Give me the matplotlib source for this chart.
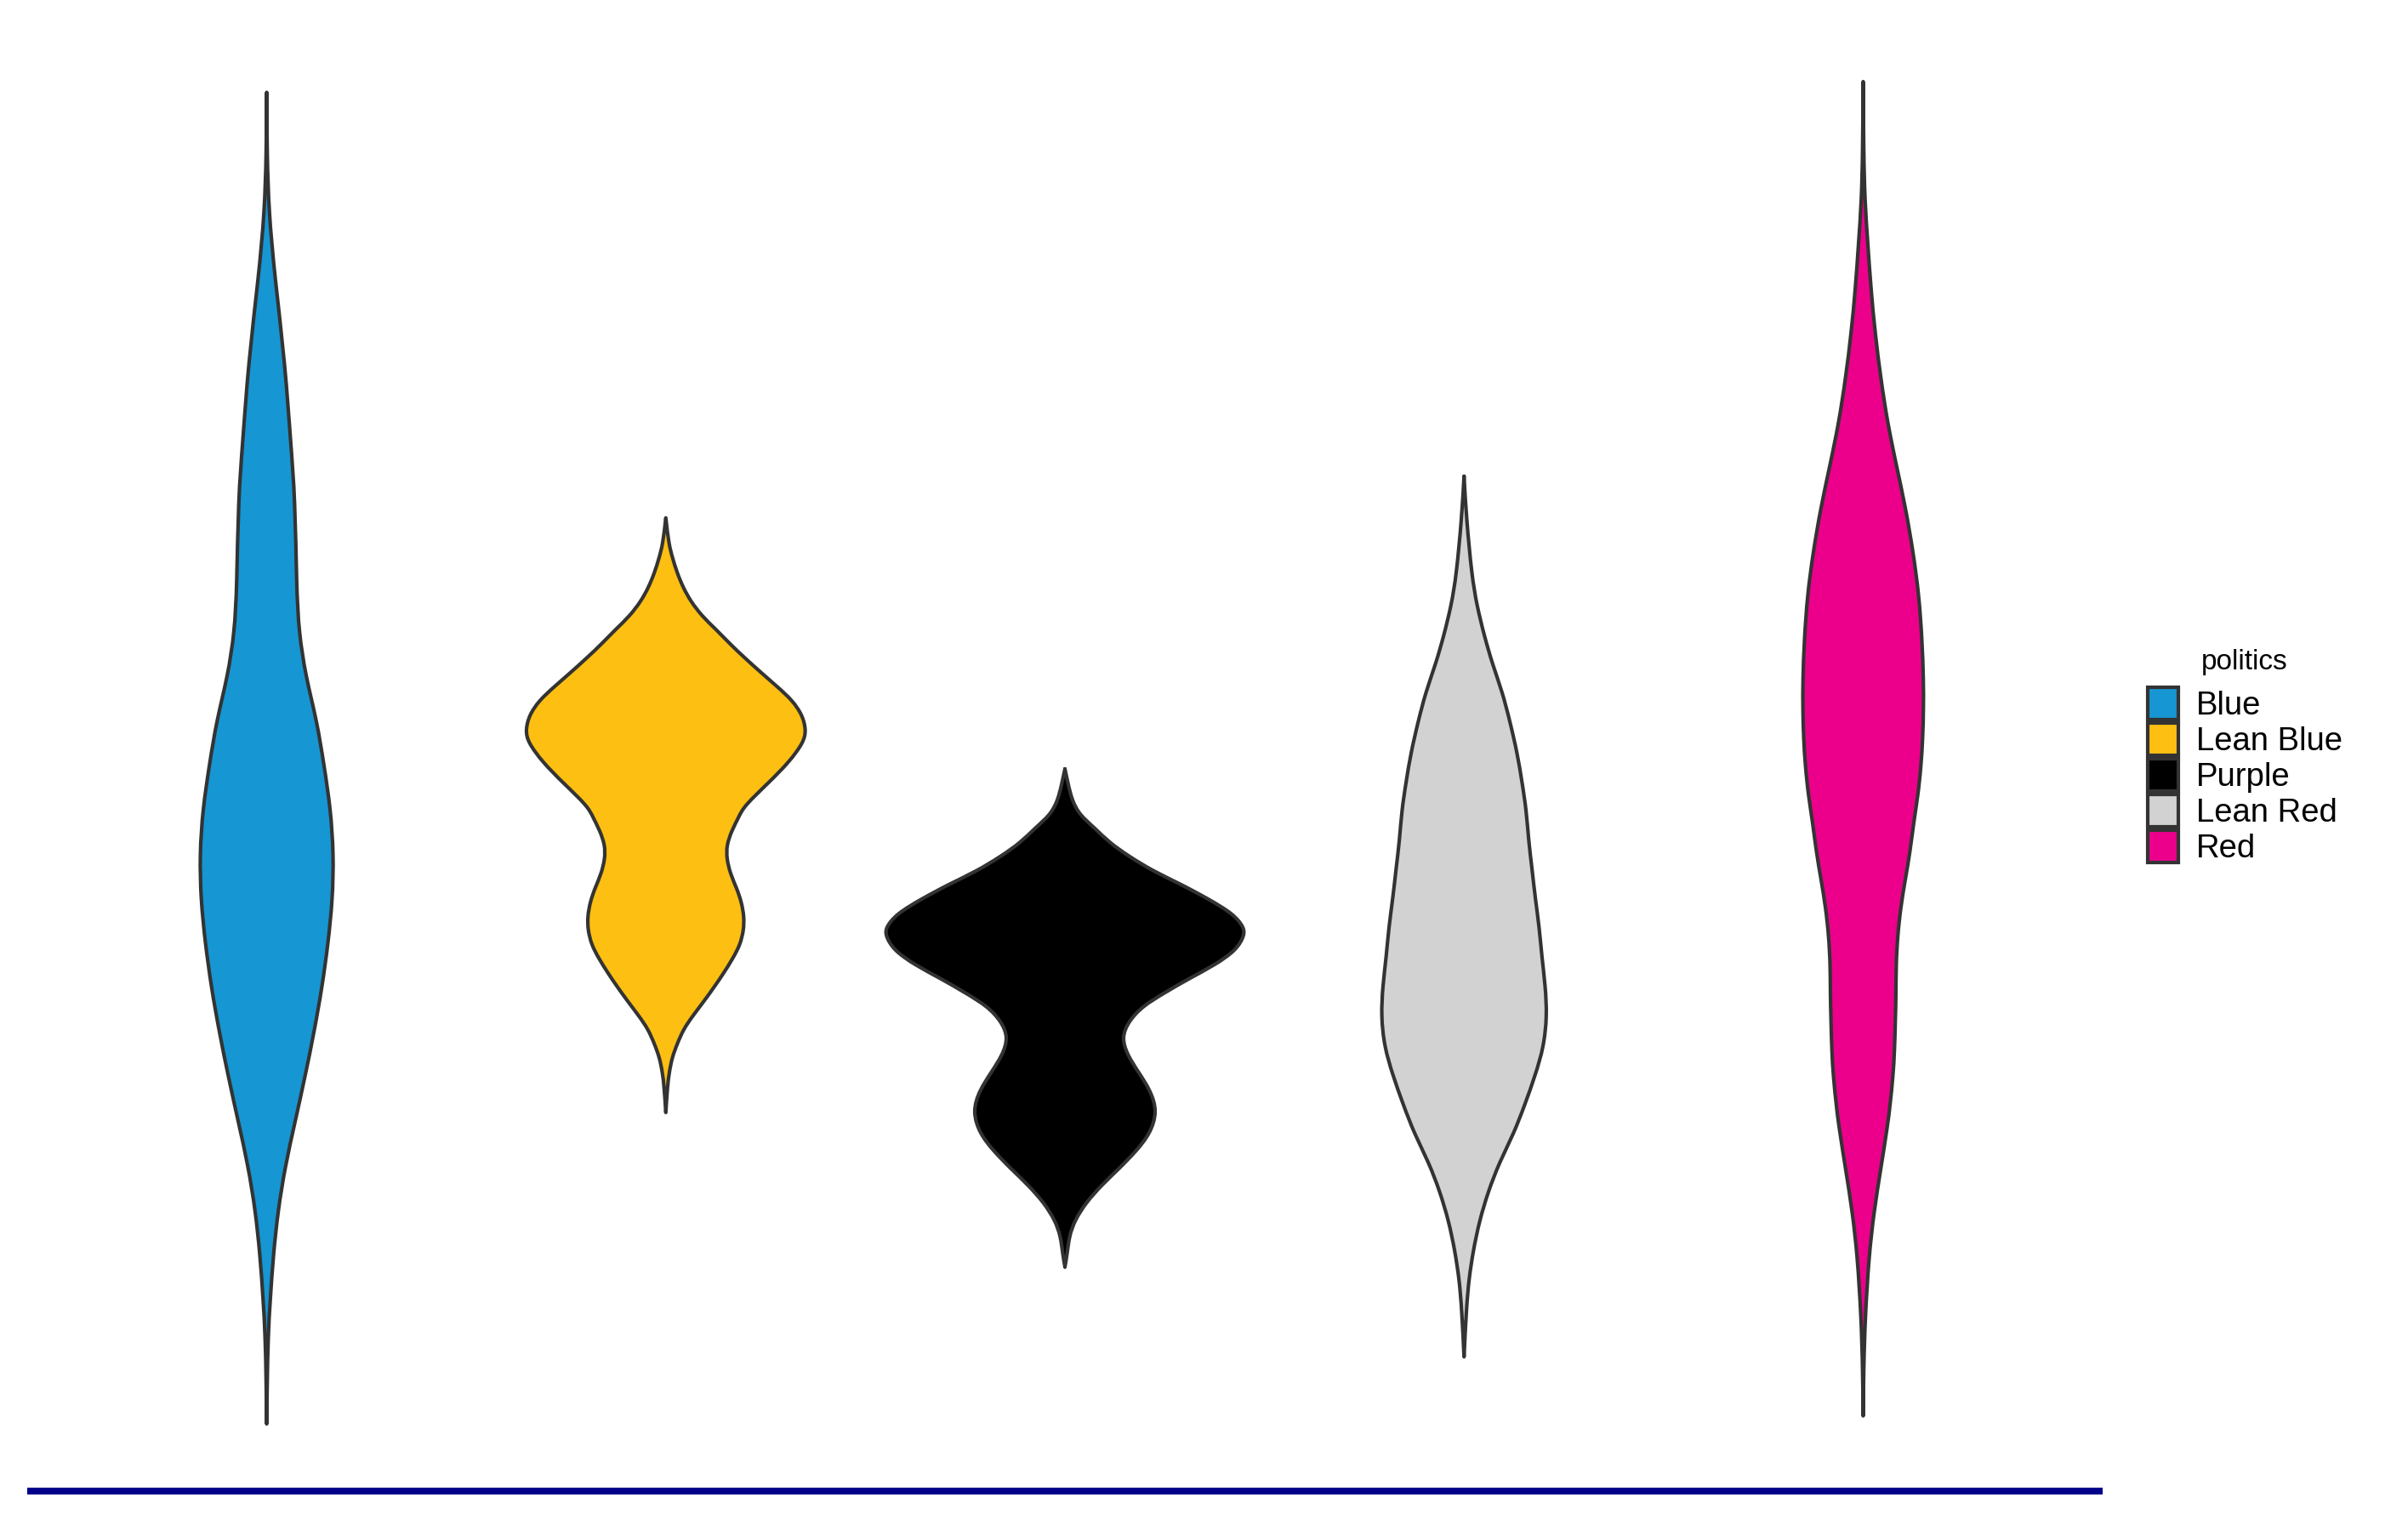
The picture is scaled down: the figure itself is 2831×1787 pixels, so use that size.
import numpy as np
import matplotlib
matplotlib.use("Agg")
import matplotlib.pyplot as plt
from matplotlib.path import Path
from matplotlib.patches import PathPatch, Rectangle

plt.rcParams['font.family'] = ['Liberation Sans', 'DejaVu Sans']

#____Data
categories = ["Blue", "Lean Blue", "Purple", "Lean Red", "Red"]
fill_colors = ["#1696d2", "#fdbf11", "#000000", "#d2d2d2", "#ec008b"]

# score along the y axis and relative density (widest violin = 1)
blue_y = [99.2, 94.6, 90.3, 85.6, 78.9, 73.0, 69.0, 62.4, 59.0, 55.7, 52.4, 49.1, 45.8,
          42.4, 39.1, 35.8, 32.5, 29.2, 25.9, 22.5, 19.2, 15.9, 12.6, 9.3, 6.6, 3.1, 0.0]
blue_w = [0, .002, .012, .044, .103, .134, .158, .166, .179, .217, .279, .319, .356,
          .373, .367, .342, .308, .264, .214, .158, .103, .063, .037, .020, .008, .003, 0]

leanblue_y = [67.5, 65.5, 64.5, 63.4, 62.3, 61.3, 60.2, 59.2, 58.1, 57.1, 56.0, 54.9, 53.9,
              52.8, 51.7, 50.8, 49.3, 47.8, 46.0, 45.2, 44.2, 43.1, 42.1, 41.0, 39.9, 38.9,
              37.8, 36.8, 35.7, 34.7, 33.6, 32.6, 31.5, 30.4, 29.4, 28.3, 27.3, 26.2, 25.1,
              23.2]
leanblue_w = [0, .017, .038, .063, .097, .138, .200, .279, .358, .437, .528, .623, .705,
              .761, .781, .769, .686, .575, .433, .406, .367, .338, .339, .359, .395, .421,
              .436, .434, .414, .374, .323, .272, .213, .150, .098, .063, .035, .019, .009,
              0]

purple_y = [48.8, 47.6, 46.5, 45.4, 44.4, 43.3, 42.3, 41.2, 40.2, 39.1, 38.0, 37.0, 36.4,
            35.3, 34.2, 33.2, 32.1, 31.1, 30.0, 28.8, 27.5, 26.2, 24.9, 23.3, 21.6, 20.3,
            19.0, 17.8, 16.5, 15.2, 14.0, 12.7, 11.7]
purple_w = [0, .019, .039, .079, .166, .248, .355, .489, .647, .800, .938, .997, 1.0,
            .955, .836, .694, .552, .430, .355, .315, .347, .410, .474, .516, .474, .395,
            .300, .205, .118, .056, .024, .013, 0]

leanred_y = [70.6, 67.5, 63.2, 61.0, 58.8, 56.6, 54.5, 52.3, 50.0, 47.8, 45.7, 43.5, 41.3,
             39.1, 37.0, 34.8, 32.6, 30.4, 28.1, 26.0, 23.8, 21.6, 19.5, 17.3, 15.1, 12.9,
             10.8, 8.6, 5.0]
leanred_w = [0, .013, .043, .071, .111, .158, .214, .256, .296, .323, .347, .359, .379,
             .397, .419, .433, .453, .462, .444, .397, .339, .276, .197, .134, .085, .051,
             .027, .013, 0]

red_y = [100.0, 94.6, 91.2, 87.9, 84.6, 81.2, 77.9, 74.7, 71.4, 68.2, 64.9, 61.7, 58.4,
         55.4, 53.3, 51.1, 49.0, 46.9, 44.8, 42.7, 40.6, 38.5, 36.4, 34.2, 32.1, 30.0,
         27.9, 25.8, 23.7, 22.4, 19.0, 15.8, 12.5, 7.9, 4.2, 0.6]
red_w = [0, .003, .009, .026, .043, .067, .098, .134, .185, .237, .279, .311, .328,
         .336, .336, .332, .322, .306, .281, .262, .235, .209, .192, .183, .183, .179,
         .175, .166, .149, .138, .098, .060, .032, .011, .003, 0]

profiles = [(blue_y, blue_w), (leanblue_y, leanblue_w), (purple_y, purple_w),
            (leanred_y, leanred_w), (red_y, red_w)]


#____Helpers
def bspline_side(pts):
    """Clamped uniform cubic B-spline on the points, as bezier segments."""
    p = np.vstack([pts[:1], pts[:1], pts, pts[-1:], pts[-1:]])
    verts, codes = [], []
    for i in range(1, len(p) - 2):
        a, b, c, d = p[i - 1], p[i], p[i + 1], p[i + 2]
        verts += [(2 * b + c) / 3.0, (b + 2 * c) / 3.0, (b + 4 * c + d) / 6.0]
        codes += [Path.CURVE4] * 3
    return verts, codes


def violin_patch(center, ys, ws, half_width=0.45, **kw):
    ys = np.asarray(ys, float)
    ws = np.asarray(ws, float) * half_width
    right = np.column_stack([center + ws, ys])
    left = np.column_stack([center - ws, ys])[::-1]
    verts, codes = [right[0]], [Path.MOVETO]
    v, c = bspline_side(right)
    verts += v; codes += c
    v, c = bspline_side(left)
    verts += v; codes += c
    verts.append(right[0]); codes.append(Path.CLOSEPOLY)
    return PathPatch(Path(np.array(verts), codes), **kw)


#____Figure
W, H = 2831, 1787
fig = plt.figure(figsize=(W / 100, H / 100), dpi=100)
ax = fig.add_axes([32 / W, 1 - 1753 / H, 2440 / W, 1736 / H])

for i, ((ys, ws), col) in enumerate(zip(profiles, fill_colors)):
    ax.add_patch(violin_patch(i + 1, ys, ws, facecolor=col, edgecolor="#333333",
                              linewidth=3.0, joinstyle="round", zorder=2))

ax.set_xlim(0.4, 5.6)
ax.set_ylim(-5, 105)
ax.set_xticks([])
ax.set_yticks([])
for side in ["top", "left", "right"]:
    ax.spines[side].set_visible(False)
ax.spines["bottom"].set_color("#00008b")
ax.spines["bottom"].set_linewidth(5.8)
ax.spines["bottom"].set_capstyle("butt")

# legend drawn by hand to match the key layout
fig.text(2588 / W, 1 - 779 / H, "politics", fontsize=24, va="center", ha="left")
for i, (lab, col) in enumerate(zip(categories, fill_colors)):
    top = 808 + 42 * i
    fig.add_artist(Rectangle((2525 / W, 1 - (top + 38) / H), 36 / W, 38 / H,
                             transform=fig.transFigure, facecolor=col,
                             edgecolor="#333333", linewidth=3.0))
    fig.text(2582 / W, 1 - (top + 22) / H, lab, fontsize=27.5, va="center", ha="left")

fig.savefig("out.png", dpi=100)
